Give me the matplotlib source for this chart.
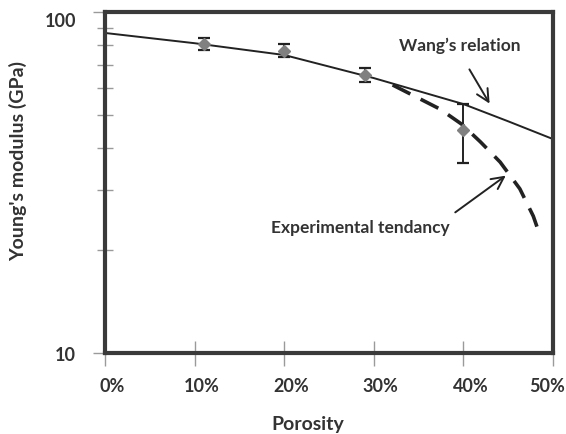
import matplotlib
matplotlib.use("Agg")
import matplotlib.pyplot as plt
from matplotlib.ticker import FixedLocator, NullFormatter, FixedFormatter
from matplotlib.transforms import ScaledTranslation
import numpy as np

# Measured Young's modulus vs porosity
porosity = [0.11, 0.20, 0.29, 0.40]
modulus = [80.5, 76.8, 65.3, 45.1]
err_low = [77.4, 74.0, 62.3, 36.1]
err_high = [83.9, 80.5, 68.5, 53.7]

# Wang's relation (solid curve)
wang_p = [0.0, 0.10, 0.20, 0.30, 0.40, 0.45, 0.50]
wang_E = [86.8, 81.0, 74.8, 64.0, 53.7, 47.8, 42.4]

# Experimental tendency (dashed curve)
trend_p = [0.321, 0.374, 0.398, 0.419, 0.441, 0.463, 0.478, 0.485]
trend_E = [61.1, 51.9, 46.9, 41.6, 36.3, 30.3, 25.2, 22.3]

x_ticks = [0.0, 0.1, 0.2, 0.3, 0.4, 0.5]
x_labels = ["0%", "10%", "20%", "30%", "40%", "50%"]

FONT = "Lato"
TXT = "#333333"
SPINE = "#3a3a3a"

fig = plt.figure(figsize=(5.66, 4.35), dpi=100)
ax = fig.add_axes([105 / 566, 1 - 354 / 435, 448 / 566, 341 / 435])

ax.set_yscale("log")
ax.set_xlim(0, 0.5)
ax.set_ylim(10, 100)

ax.plot(wang_p, wang_E, color="#222222", lw=1.4, zorder=3)
ax.plot(trend_p, trend_E, color="#222222", lw=2.6, ls=(0, (5.5, 3.2)), zorder=3)

yerr = [np.array(modulus) - np.array(err_low), np.array(err_high) - np.array(modulus)]
ax.errorbar(porosity, modulus, yerr=yerr, fmt="D", color="#808080", ms=6,
            ecolor="#222222", elinewidth=1.4, capsize=4.5, capthick=1.6, zorder=4)

for s in ax.spines.values():
    s.set_color(SPINE)
    s.set_linewidth(3)
    s.set_zorder(5)

ax.xaxis.set_major_locator(FixedLocator(x_ticks))
ax.xaxis.set_major_formatter(FixedFormatter(x_labels))
ax.xaxis.set_minor_locator(FixedLocator([]))
ax.yaxis.set_major_locator(FixedLocator([10, 100]))
ax.yaxis.set_major_formatter(FixedFormatter(["10", "100"]))
ax.yaxis.set_minor_locator(FixedLocator([20, 30, 40, 50, 60, 70, 80, 90]))
ax.yaxis.set_minor_formatter(NullFormatter())

ax.tick_params(axis="both", which="both", direction="inout", color="#9a9a9a", width=1.0)
ax.tick_params(axis="x", which="major", length=18, pad=8, labelsize=13, labelcolor=TXT)
ax.tick_params(axis="y", which="major", length=18, pad=12, labelsize=13, labelcolor=TXT)
ax.tick_params(axis="y", which="minor", length=12)
for lab in ax.get_xticklabels() + ax.get_yticklabels():
    lab.set_fontfamily(FONT)
    lab.set_fontweight("bold")

# category-style label placement: labels sit just right of their ticks,
# the last one is pulled inside the figure edge
xlabs = ax.get_xticklabels()
for i, lab in enumerate(xlabs):
    dx = 7 if i < len(xlabs) - 1 else -6
    lab.set_transform(lab.get_transform() + ScaledTranslation(dx / 100, 0, fig.dpi_scale_trans))
# nudge the top decade label slightly below the frame edge
top_lab = ax.get_yticklabels()[1]
top_lab.set_transform(top_lab.get_transform() + ScaledTranslation(0, -7 / 100, fig.dpi_scale_trans))

fig.text(308 / 566, 1 - 425 / 435, "Porosity", ha="center", va="center",
         fontsize=14, fontweight="bold", color=TXT, family=FONT)
fig.text(18 / 566, 1 - 161 / 435, "Young's modulus (GPa)", ha="center", va="center",
         rotation=90, fontsize=14, fontweight="bold", color=TXT, family=FONT)

fig.text(460 / 566, 1 - 46 / 435, "Wang\u2019s relation", ha="center", va="center",
         fontsize=12.5, fontweight="bold", color=TXT, family=FONT)
ax.annotate("", xy=(491, 435 - 107), xycoords="figure pixels",
            xytext=(468, 435 - 68), textcoords="figure pixels",
            arrowprops=dict(arrowstyle="->", color="#222222", lw=1.4, mutation_scale=22))

fig.text(360 / 566, 1 - 228 / 435, "Experimental tendancy", ha="center", va="center",
         fontsize=12.5, fontweight="bold", color=TXT, family=FONT)
ax.annotate("", xy=(508, 435 - 175), xycoords="figure pixels",
            xytext=(453, 435 - 215), textcoords="figure pixels",
            arrowprops=dict(arrowstyle="->", color="#222222", lw=1.4, mutation_scale=22))

fig.savefig("out.png", dpi=100)
